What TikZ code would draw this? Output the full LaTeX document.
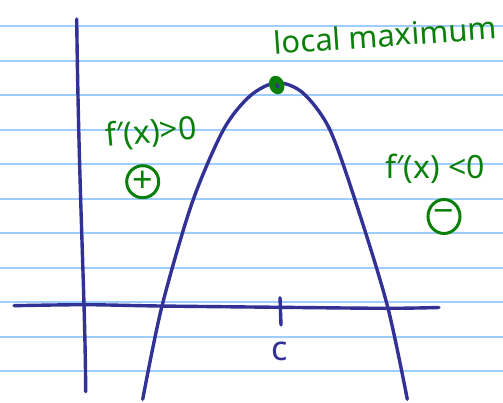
\documentclass[tikz,border=0pt]{standalone}
\usepackage{fontspec}
\setmainfont{Noto Sans}
\usetikzlibrary{shapes.geometric}
\begin{document}
\begin{tikzpicture}[x=1pt,y=-1pt]
\definecolor{rulec}{RGB}{160,205,255}
\definecolor{ink}{RGB}{50,50,150}
\definecolor{grn}{RGB}{10,128,10}
\tikzset{
  ruleline/.style={draw=rulec,line width=2.2pt},
  inkline/.style={draw=ink,line width=3.4pt,line cap=round,line join=round},
  hand/.style={text=grn,font=\fontsize{32}{34}\selectfont,inner sep=0pt},
  signcirc/.style={draw=grn,line width=3pt,circle,minimum size=32pt,inner sep=0pt,text=grn,font=\fontsize{36}{38}\selectfont}
}
\useasboundingbox[fill=white] (0,0) rectangle (503,402);
\foreach \k in {0,...,10} \draw[ruleline] (0,26.2+34.5*\k) -- (503,26.2+34.5*\k);
% axes
\draw[inkline] (76.7,19) .. controls (79,200) and (85,290) .. (85.7,391.7);
\draw[inkline] plot[smooth] coordinates {(14,305.7) (85,304.7) (160,306) (280,307.3) (387,308.3) (439,307.5)};
\draw[inkline] (280,297.7) -- (281,325);
% curve
\draw[inkline] plot[smooth] coordinates {(142.7,399.3) (162,306) (192,203) (223.3,130) (250,96) (276.7,82.7) (303,93) (330,130) (358.3,210) (387.7,307) (407.3,399.3)};
% maximum dot
\fill[grn,rotate around={20:(276.7,85)}] (276.7,85) ellipse (7.5 and 9.5);
\fill[ink,rotate around={20:(276.7,85)}] (277,86) ellipse (1.5 and 3);
% labels
\node[hand,font=\fontsize{31}{33}\selectfont,rotate=4] (lmax) at (385,35) {local maximum};
\node[hand,rotate=5] (fpos) at (151,133) {f′(x)>0};
\node[hand] (fneg) at (435,169) {f′(x) <0};
\node[signcirc] (plus) at (142.7,181.7) {+};
\node[signcirc,ellipse,minimum width=32pt,minimum height=34pt] (minus) at (444,216.5) {−};
\node[text=ink,font=\fontsize{34}{36}\selectfont,inner sep=0pt] (clab) at (280,351) {c};
\end{tikzpicture}
\end{document}
